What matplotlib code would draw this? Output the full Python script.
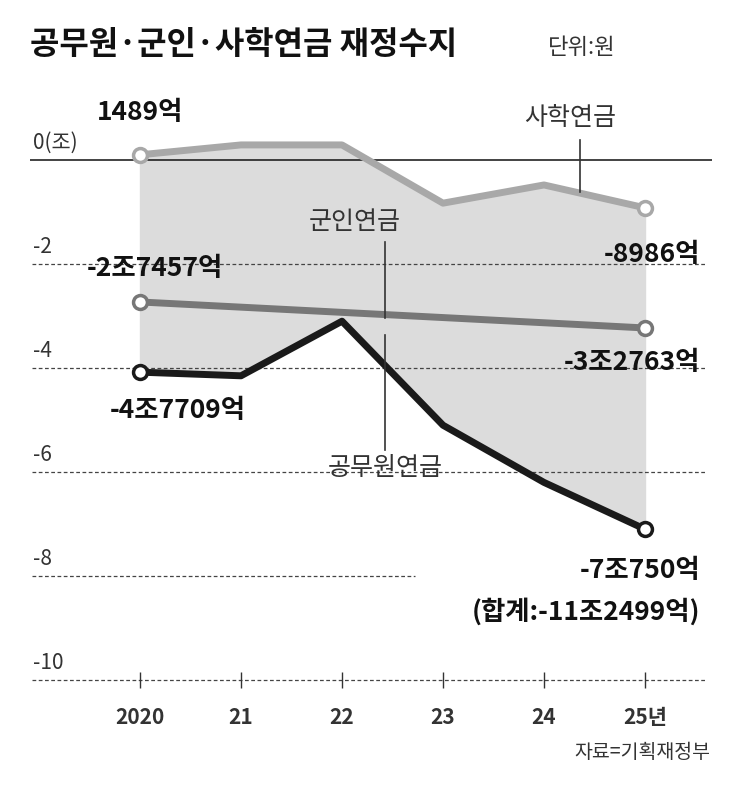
import matplotlib
matplotlib.use("Agg")
import matplotlib.pyplot as plt

plt.rcParams["font.family"] = ["Noto Sans CJK KR", "Noto Sans CJK JP",
                               "Noto Sans CJK SC", "DejaVu Sans"]

years = ["2020", "21", "22", "23", "24", "25년"]
sahak = [0.10, 0.29, 0.29, -0.83, -0.48, -0.92]
gunin = [-2.73, -2.83, -2.93, -3.03, -3.13, -3.23]
gongmu = [-4.08, -4.15, -3.10, -5.10, -6.20, -7.10]
y_ticks = [0, -2, -4, -6, -8, -10]
y_labels = ["0(조)", "-2", "-4", "-6", "-8", "-10"]

# pixel helpers: x px = 140 + 101*i, y px = 160 - 52*v
def X(px): return (px - 140) / 101
def Y(px): return (160 - px) / 52

fig = plt.figure(figsize=(7.43, 7.87), dpi=100)
ax = fig.add_axes([0, 0, 1, 1])
ax.set_xlim(X(0), X(743))
ax.set_ylim(Y(787), Y(0))
ax.axis("off")

xs = list(range(len(years)))
ax.fill_between(xs, sahak, gongmu, color="#dcdcdc", zorder=1)

ax.hlines(0, X(30), X(712), color="#222222", lw=1.2, zorder=2)
grid_ends = {-2: 705, -4: 705, -6: 705, -8: 415, -10: 705}
for v, lab in zip(y_ticks, y_labels):
    if v != 0:
        ax.hlines(v, X(32), X(grid_ends[v]), color="#444444", lw=0.9,
                  linestyles=(0, (3, 2)), zorder=2)
    ax.text(X(33), v + 0.12, lab, fontsize=15, color="#333333", va="bottom", ha="left")

for i in xs:
    ax.vlines(i, Y(672), Y(688), color="#333333", lw=1)
    ax.text(i, Y(718), years[i], fontsize=15, fontweight="bold", color="#333333",
            ha="center", va="center")

ax.plot(xs, sahak, color="#a8a8a8", lw=5, zorder=3, solid_capstyle="round")
ax.plot(xs, gunin, color="#777777", lw=5, zorder=3, solid_capstyle="round")
ax.plot(xs, gongmu, color="#1a1a1a", lw=5, zorder=4, solid_capstyle="round")
for s, c in ((sahak, "#a8a8a8"), (gunin, "#777777"), (gongmu, "#1a1a1a")):
    ax.plot([0, 5], [s[0], s[5]], "o", ms=10, mfc="white", mec=c, mew=2.5, zorder=5)

bold = dict(fontsize=19, fontweight="bold", color="#111111", va="center")
ax.text(X(140), Y(112), "1489억", ha="center", **bold)
ax.text(X(155), Y(268), "-2조7457억", ha="center", **bold)
ax.text(X(178), Y(410), "-4조7709억", ha="center", **bold)
ax.text(X(700), Y(254), "-8986억", ha="right", **bold)
ax.text(X(700), Y(362), "-3조2763억", ha="right", **bold)
ax.text(X(700), Y(570), "-7조750억", ha="right", **bold)
ax.text(X(700), Y(612), "(합계:-11조2499억)", ha="right", **bold)

name = dict(fontsize=18, color="#333333", ha="center", va="center")
ax.text(X(570), Y(118), "사학연금", **name)
ax.text(X(355), Y(222), "군인연금", **name)
ax.text(X(385), Y(468), "공무원연금", **name)
ax.plot([X(580), X(580)], [Y(140), Y(192)], color="#333333", lw=1.2, zorder=6)
ax.plot([X(385), X(385)], [Y(242), Y(318)], color="#333333", lw=1.2, zorder=6)
ax.plot([X(385), X(385)], [Y(335), Y(450)], color="#333333", lw=1.2, zorder=6)

ax.text(X(30), Y(45), "공무원·군인·사학연금 재정수지", fontsize=23, fontweight="bold",
        color="#111111", ha="left", va="center")
ax.text(X(548), Y(48), "단위:원", fontsize=16, color="#333333", ha="left", va="center")
ax.text(X(710), Y(752), "자료=기획재정부", fontsize=14, color="#333333", ha="right", va="center")

fig.savefig("out.png", dpi=100)
